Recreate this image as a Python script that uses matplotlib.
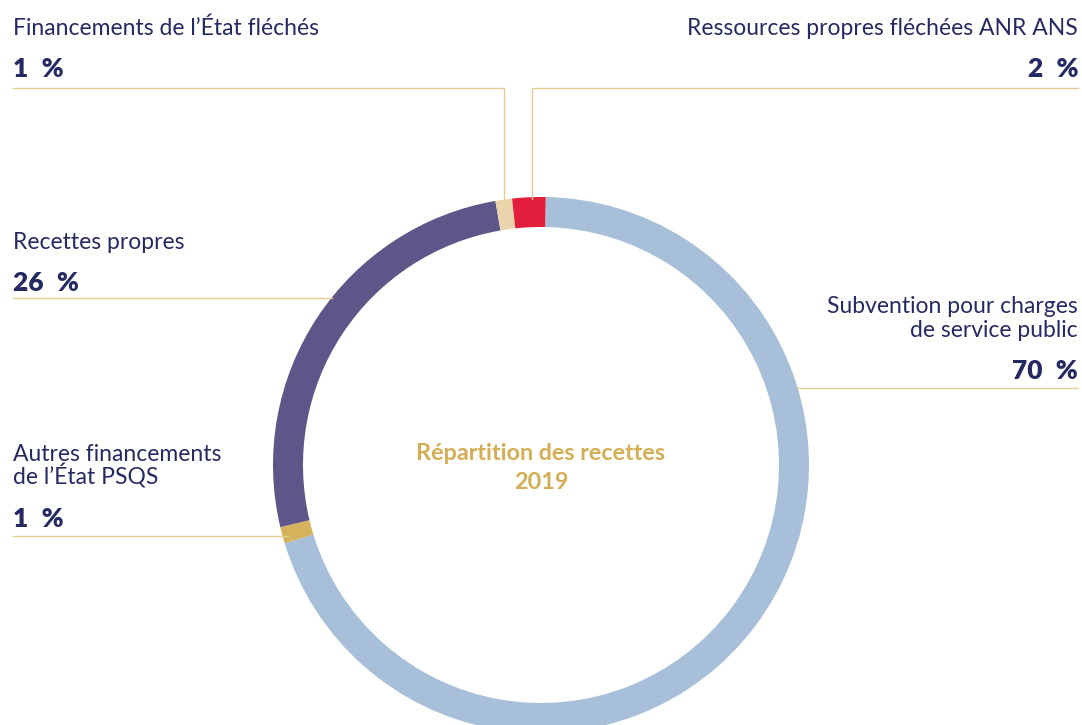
import matplotlib.pyplot as plt

# parts of the 2019 revenue, clockwise from the top
labels = ['Subvention pour charges\nde service public', "Autres financements\nde l\u2019\u00c9tat PSQS",
          'Recettes propres', "Financements de l\u2019\u00c9tat fl\u00e9ch\u00e9s",
          'Ressources propres fl\u00e9ch\u00e9es ANR ANS']
values = [70, 1, 26, 1, 2]
colors = ['#A7BFD8', '#D5B35C', '#5E5689', '#E9D4AC', '#E31D3C']

navy = '#262A63'
gold = '#D4AE55'
line_col = '#E3CD92'

W, H = 1082, 725
fig = plt.figure(figsize=(W / 100, H / 100), dpi=100)
ax = fig.add_axes([0, 0, 1, 1])

cx, cy, r = 541, H - 465, 268
ax.pie(values, colors=colors, startangle=89, counterclock=False,
       center=(cx, cy), radius=r,
       wedgeprops=dict(width=30, linewidth=0))
ax.set_xlim(0, W)
ax.set_ylim(0, H)
ax.set_aspect('equal')
ax.axis('off')

plt.rcParams['font.family'] = ['Lato', 'DejaVu Sans']


def y(p):
    return H - p


def label(x, top, lines, pct, ha):
    yy = top
    for ln in lines:
        ax.text(x, y(yy), ln, ha=ha, va='baseline', fontsize=16.5, color=navy)
        yy += 24
    ax.text(x, y(yy + 18), pct.replace(' ', '\u2002'), ha=ha, va='baseline',
            fontsize=19, fontweight='heavy', color=navy)


label(13, 35, ["Financements de l\u2019\u00c9tat fl\u00e9ch\u00e9s"], '1 %', 'left')
label(1078, 35, ['Ressources propres fl\u00e9ch\u00e9es ANR ANS'], '2 %', 'right')
label(13, 249, ['Recettes propres'], '26 %', 'left')
label(1078, 313, ['Subvention pour charges', 'de service public'], '70 %', 'right')
label(13, 461, ['Autres financements', "de l\u2019\u00c9tat PSQS"], '1 %', 'left')

# leader lines
lw = 1.0
ax.plot([13, 504, 504], [y(88), y(88), y(200)], color=line_col, lw=lw)
ax.plot([1078, 532, 532], [y(88), y(88), y(199)], color=line_col, lw=lw)
ax.plot([13, 332], [y(298), y(298)], color=line_col, lw=lw)
ax.plot([797, 1078], [y(388), y(388)], color=line_col, lw=lw)
ax.plot([13, 288], [y(536), y(536)], color=line_col, lw=lw)

ax.text(cx, y(460), 'R\u00e9partition des recettes', ha='center', va='baseline',
        fontsize=16.8, fontweight='bold', color=gold)
ax.text(cx, y(489), '2019', ha='center', va='baseline',
        fontsize=16.8, fontweight='bold', color=gold)

fig.savefig('out.png', dpi=100)
